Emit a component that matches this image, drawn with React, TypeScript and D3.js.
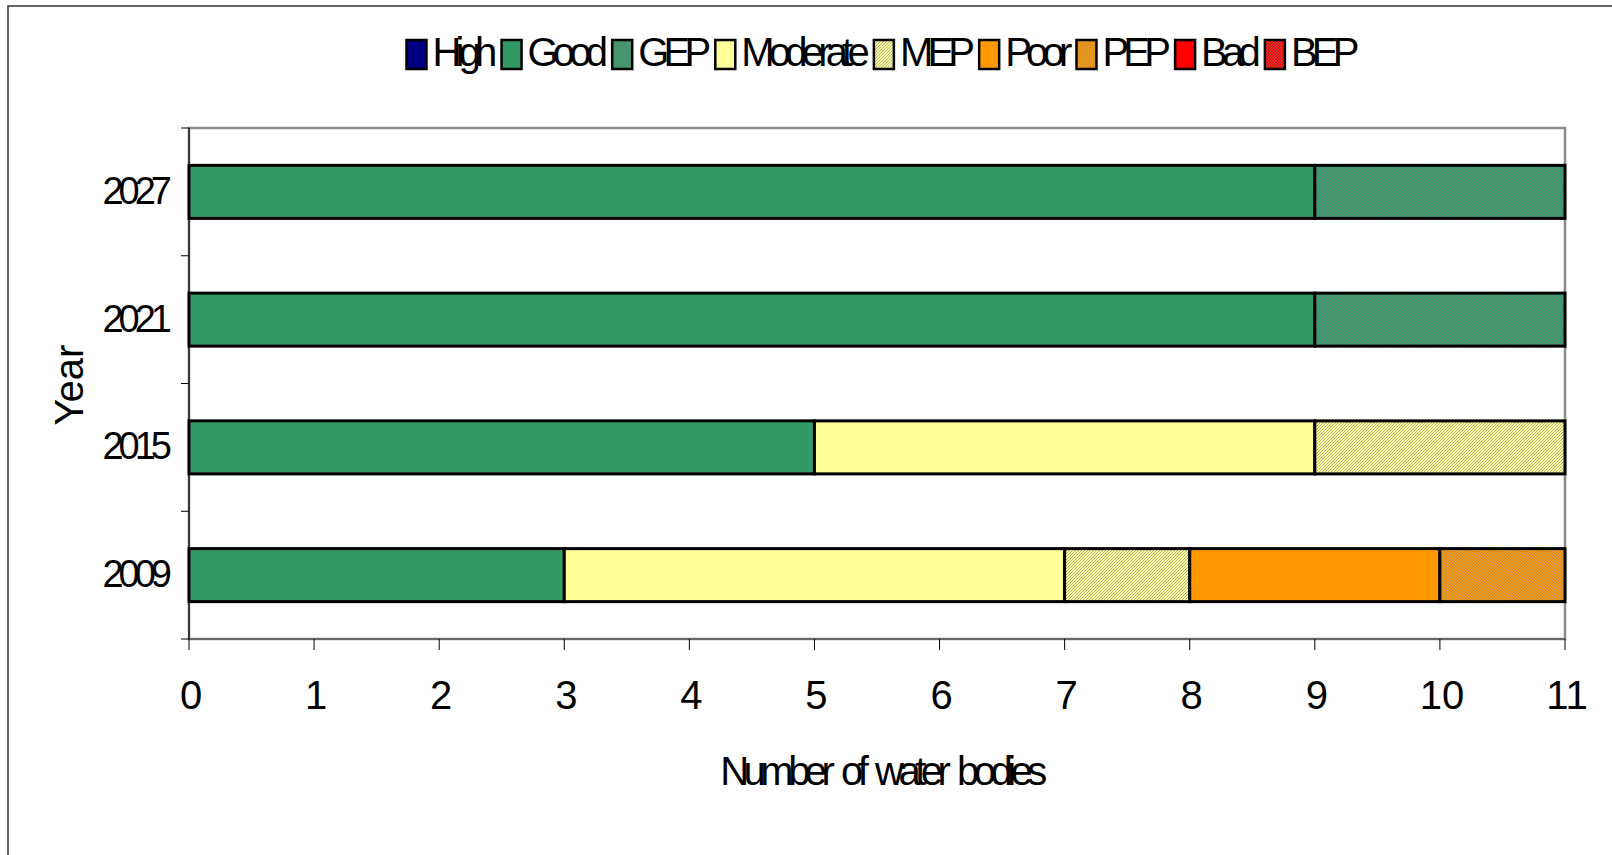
import React, { useEffect, useRef } from 'react';
import * as d3 from 'd3';

const YEARS = ['2027', '2021', '2015', '2009'];
const SERIES = ['High', 'Good', 'GEP', 'Moderate', 'MEP', 'Poor', 'PEP', 'Bad', 'BEP'];
const HIGH = [0, 0, 0, 0];
const GOOD = [9, 9, 5, 3];
const GEP = [2, 2, 0, 0];
const MODERATE = [0, 0, 4, 4];
const MEP = [0, 0, 2, 1];
const POOR = [0, 0, 0, 2];
const PEP = [0, 0, 0, 1];
const BAD = [0, 0, 0, 0];
const BEP = [0, 0, 0, 0];
const X_MAX = 11;

const COLORS: Record<string, string> = {
    High: '#000080',
    Good: '#339966',
    GEP: '#339966',
    Moderate: '#ffff99',
    MEP: '#ffff99',
    Poor: '#ff9900',
    PEP: '#ff9900',
    Bad: '#ff0000',
    BEP: '#ff0000',
};
const HATCHED = ['GEP', 'MEP', 'PEP', 'BEP'];

const W = 1612;
const H = 855;
const M = { left: 189, right: 1565, top: 128, bottom: 639 };
const FONT = '"Liberation Sans", Arial, sans-serif';

const App = () => {
    const ref = useRef<SVGSVGElement | null>(null);

    useEffect(() => {
        if (!ref.current) return;
        const svg = d3.select(ref.current);
        svg.selectAll('*').remove();

        const table = YEARS.map((year, i) => ({
            year,
            High: HIGH[i],
            Good: GOOD[i],
            GEP: GEP[i],
            Moderate: MODERATE[i],
            MEP: MEP[i],
            Poor: POOR[i],
            PEP: PEP[i],
            Bad: BAD[i],
            BEP: BEP[i],
        }));
        const stacked = d3.stack<any>().keys(SERIES)(table);

        const x = d3.scaleLinear().domain([0, X_MAX]).range([M.left, M.right]);
        const y = d3
            .scaleBand()
            .domain(YEARS)
            .range([M.top, M.bottom])
            .paddingInner(0.585)
            .paddingOuter(0.2925);

        // fine hatch patterns (Excel style)
        const defs = svg.append('defs');
        HATCHED.forEach(k => {
            const p = defs
                .append('pattern')
                .attr('id', `hatch-${k}`)
                .attr('patternUnits', 'userSpaceOnUse')
                .attr('width', 3)
                .attr('height', 3);
            p.append('rect').attr('width', 3).attr('height', 3).attr('fill', COLORS[k]);
            p.append('path')
                .attr('d', 'M-1,1 l2,-2 M0,3 l3,-3 M2,4 l2,-2')
                .attr('stroke', '#888')
                .attr('stroke-width', 0.7);
        });
        const fillOf = (k: string) => (HATCHED.includes(k) ? `url(#hatch-${k})` : COLORS[k]);

        // outer frame
        svg.append('path')
            .attr('d', `M8,${H} L8,6 L${W},6`)
            .attr('fill', 'none')
            .attr('stroke', '#333')
            .attr('stroke-width', 1.5);

        // plot area border
        svg.append('rect')
            .attr('x', M.left)
            .attr('y', M.top)
            .attr('width', M.right - M.left)
            .attr('height', M.bottom - M.top)
            .attr('fill', 'white')
            .attr('stroke', '#8a8a8a')
            .attr('stroke-width', 2.5);

        // bars
        stacked.forEach(s => {
            svg.append('g')
                .selectAll('rect')
                .data(s.filter(d => d[1] - d[0] > 0))
                .join('rect')
                .attr('x', d => x(d[0]))
                .attr('y', d => y(d.data.year) as number)
                .attr('width', d => x(d[1]) - x(d[0]))
                .attr('height', y.bandwidth())
                .attr('fill', fillOf(s.key))
                .attr('stroke', '#000')
                .attr('stroke-width', 3);
        });

        // axes lines
        svg.append('line')
            .attr('x1', M.left).attr('x2', M.left)
            .attr('y1', M.top).attr('y2', M.bottom)
            .attr('stroke', '#000').attr('stroke-width', 1.2);
        svg.append('line')
            .attr('x1', M.left).attr('x2', M.right)
            .attr('y1', M.bottom).attr('y2', M.bottom)
            .attr('stroke', '#444').attr('stroke-width', 1.2);

        // x ticks
        const xt = svg.append('g');
        x.ticks(X_MAX).forEach(t => {
            xt.append('line')
                .attr('x1', x(t)).attr('x2', x(t))
                .attr('y1', M.bottom).attr('y2', M.bottom + 11)
                .attr('stroke', '#000').attr('stroke-width', 1);
            xt.append('text')
                .attr('x', x(t) + 2)
                .attr('y', 709)
                .attr('text-anchor', 'middle')
                .attr('font-family', FONT)
                .attr('font-size', 40)
                .text(String(t));
        });

        // y ticks on band boundaries
        const step = y.step();
        d3.range(YEARS.length + 1).forEach(i => {
            const yy = M.top + i * step;
            svg.append('line')
                .attr('x1', M.left - 8).attr('x2', M.left)
                .attr('y1', yy).attr('y2', yy)
                .attr('stroke', '#000').attr('stroke-width', 1);
        });
        YEARS.forEach(yr => {
            svg.append('text')
                .attr('x', 167)
                .attr('y', (y(yr) as number) + y.bandwidth() / 2 + 12)
                .attr('text-anchor', 'end')
                .attr('font-family', FONT)
                .attr('font-size', 38)
                .attr('letter-spacing', -5)
                .text(yr);
        });

        // axis titles
        svg.append('text')
            .attr('transform', 'translate(83,385) rotate(-90)')
            .attr('text-anchor', 'middle')
            .attr('font-family', FONT)
            .attr('font-size', 40)
            .text('Year');
        svg.append('text')
            .attr('x', (M.left + M.right) / 2 + 4)
            .attr('y', 785)
            .attr('text-anchor', 'middle')
            .attr('font-family', FONT)
            .attr('font-size', 40)
            .attr('letter-spacing', -5.5)
            .attr('word-spacing', 6)
            .text('Number of water bodies');

        // legend (flow layout, centred)
        const lg = svg.append('g');
        let cx = 0;
        SERIES.forEach(k => {
            const g = lg.append('g').attr('transform', `translate(${cx},0)`);
            g.append('rect')
                .attr('x', 0).attr('y', 40)
                .attr('width', 20).attr('height', 29)
                .attr('fill', fillOf(k))
                .attr('stroke', '#000').attr('stroke-width', 2.5);
            const t = g.append('text')
                .attr('x', 26)
                .attr('y', 66)
                .attr('font-family', FONT)
                .attr('font-size', 40)
                .attr('letter-spacing', -5.8)
                .text(k);
            const w = (t.node() as SVGTextElement).getComputedTextLength();
            cx += 26 + w + 10;
        });
        const total = cx - 10;
        lg.attr('transform', `translate(${(M.left + M.right) / 2 - total / 2 + 3},0)`);
    }, []);

    return (
        <svg
            ref={ref}
            width={W}
            height={H}
            style={{ position: 'absolute', left: 0, top: 0, display: 'block', background: 'white' }}
        />
    );
};

export default App;
